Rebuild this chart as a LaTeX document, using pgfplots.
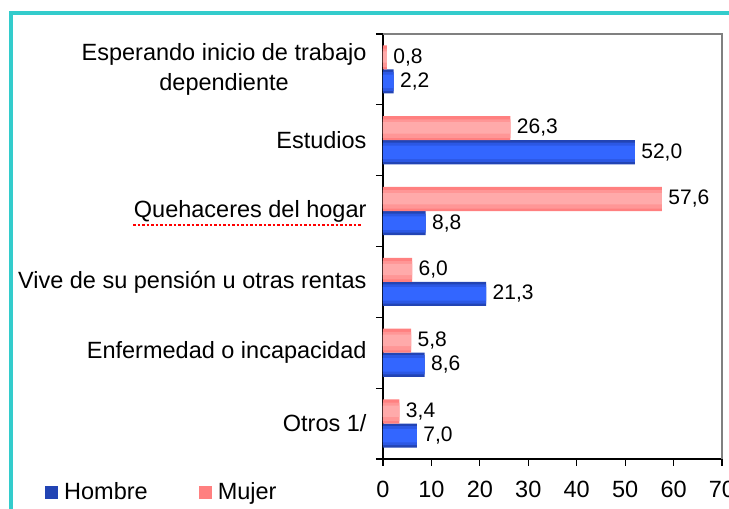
\documentclass[border=0pt]{standalone}
\usepackage{pgfplots}
\pgfplotsset{compat=1.18}
\usepackage{fontspec}
\setmainfont{Liberation Sans}
\definecolor{frame}{HTML}{33CCCC}
\definecolor{hdark}{HTML}{2244B4}
\definecolor{hmid}{HTML}{2C58E4}
\definecolor{hlight}{HTML}{3366FF}
\definecolor{mdark}{HTML}{FF8080}
\definecolor{mmid}{HTML}{FF9696}
\definecolor{mlight}{HTML}{FFAAAA}

\pgfplotstableread{
y hombre mujer
0 7.0  3.4
1 8.6  5.8
2 21.3 6.0
3 8.8  57.6
4 52.0 26.3
5 2.2  0.8
}\datos

\begin{document}
\begin{tikzpicture}[x=1pt,y=1pt]
\useasboundingbox (0,0) rectangle (729,509);
\draw[frame, line width=4pt] (11,-20) -- (11,496) -- (760,496);
% subrayado punteado bajo "Quehaceres del hogar"
\draw[red, line width=2pt, dash pattern=on 2.5pt off 2pt] (133,284) -- (362,284);
\begin{axis}[
    at={(383pt,50pt)}, anchor=south west,
    scale only axis,
    width=339pt, height=425pt,
    xbar,
    xmin=0, xmax=70,
    ymin=-0.5, ymax=5.5,
    xtick={0,10,...,70},
    ytick={0,...,5},
    yticklabels={Otros 1/, Enfermedad o incapacidad, Vive de su pensión u otras rentas,
        Quehaceres del hogar, Estudios, {Esperando inicio de trabajo\\dependiente}},
    minor ytick={-0.5,0.5,...,5.5},
    major y tick style={draw=none},
    tick align=outside,
    tick style={black, line width=1.2pt},
    major tick length=7pt,
    minor tick length=7pt,
    axis x line*=bottom,
    axis y line*=left,
    axis line style={-, black, line width=1.5pt},
    font=\fontsize{23.5}{30}\selectfont,
    yticklabel style={align=center, xshift=-6pt},
    xticklabel style={yshift=-12pt},
    /pgf/number format/assume math mode=true,
    nodes near coords style={font=\fontsize{21}{23}\selectfont, anchor=west, black, xshift=3pt},
    legend style={at={(-0.997,-0.078)}, anchor=west, draw=none, inner sep=0pt,
        legend columns=2, font=\fontsize{23.5}{25}\selectfont,
        /tikz/every even column/.append style={column sep=49pt}},
    legend image code/.code={\fill[#1] (0pt,-6.5pt) rectangle (13pt,6.5pt); \path (17pt,0pt);},
    clip=false,
]
% Hombre: capas para imitar el degradado
\addplot[draw=none, fill=hdark, bar width=0.34, bar shift=-0.17] table[x=hombre, y=y] {\datos};
\addlegendentry{Hombre}
\addplot[draw=none, fill=hmid, bar width=0.27, bar shift=-0.17, forget plot] table[x=hombre, y=y] {\datos};
\addplot[draw=none, fill=hlight, bar width=0.19, bar shift=-0.17, forget plot,
    nodes near coords={\pgfmathprintnumber[use comma, fixed, fixed zerofill, precision=1]{\pgfplotspointmeta}}]
    table[x=hombre, y=y] {\datos};
% Mujer
\addplot[draw=none, fill=mdark, bar width=0.34, bar shift=0.17] table[x=mujer, y=y] {\datos};
\addlegendentry{Mujer}
\addplot[draw=none, fill=mmid, bar width=0.26, bar shift=0.165, forget plot] table[x=mujer, y=y] {\datos};
\addplot[draw=none, fill=mlight, bar width=0.16, bar shift=0.175, forget plot,
    nodes near coords={\pgfmathprintnumber[use comma, fixed, fixed zerofill, precision=1]{\pgfplotspointmeta}}]
    table[x=mujer, y=y] {\datos};
\draw[gray, line width=1.2pt] (rel axis cs:0,1) -- (rel axis cs:1,1) -- (rel axis cs:1,0);
\end{axis}
\end{tikzpicture}
\end{document}
